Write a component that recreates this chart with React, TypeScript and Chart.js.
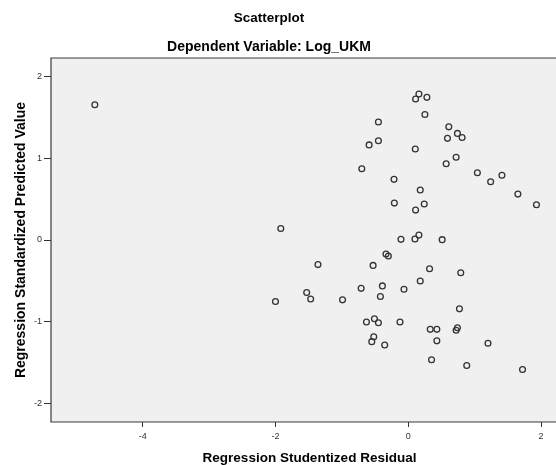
import { useEffect, useRef } from "react";
import { Chart, registerables } from "chart.js";

Chart.register(...registerables);

const residuals: number[] = [
  -4.72, -1.92, -2.0, 0.16, 0.11, 0.28, 0.25, -0.45, 0.61, 0.74, 0.81, 0.59, -0.45, -0.59, 0.105, -0.7,
  0.57, 0.72, 1.04, 1.24, 1.41, -0.215, 1.65, 1.93, 0.18, -0.21, 0.24, 0.11, -0.11, 0.1, 0.16, 0.51,
  -0.336, -0.3, -1.36, -0.53, 0.32, 0.79, 0.18, -0.71, -0.39, -0.065, -0.42, -1.53, -1.47, -0.99, 0.77,
  -0.63, -0.51, -0.45, -0.125, 0.33, 0.43, 0.74, 0.72, -0.52, -0.55, -0.355, 0.43, 1.2, 0.35, 0.88, 1.72,
];
const predicted: number[] = [
  1.65, 0.14, -0.75, 1.78, 1.72, 1.74, 1.53, 1.44, 1.38, 1.3, 1.25, 1.24, 1.21, 1.16, 1.11, 0.87,
  0.93, 1.01, 0.82, 0.71, 0.79, 0.74, 0.56, 0.43, 0.61, 0.45, 0.44, 0.365, 0.008, 0.012, 0.06, 0.004,
  -0.17, -0.195, -0.3, -0.31, -0.35, -0.4, -0.5, -0.59, -0.56, -0.6, -0.69, -0.64, -0.72, -0.73, -0.84,
  -1.0, -0.96, -1.01, -1.0, -1.09, -1.09, -1.07, -1.1, -1.18, -1.24, -1.28, -1.23, -1.26, -1.46, -1.53, -1.58,
];
const xTicks: number[] = [-4, -2, 0, 2];
const yTicks: number[] = [-2, -1, 0, 1, 2];
const chartTitle = "Scatterplot";
const chartSubtitle = "Dependent Variable: Log_UKM";
const xTitle = "Regression Studentized Residual";
const yTitle = "Regression Standardized Predicted Value";

const FONT = 'Arial, "Liberation Sans", sans-serif';

export default function App() {
  const ref = useRef<HTMLCanvasElement>(null);

  useEffect(() => {
    if (!ref.current) return;
    const framePlugin = {
      id: "spssFrame",
      beforeDraw(chart: any) {
        const { ctx, chartArea: a } = chart;
        ctx.save();
        ctx.fillStyle = "#F0F0F0";
        ctx.fillRect(a.left, a.top, a.right - a.left, a.bottom - a.top);
        ctx.restore();
      },
      afterDraw(chart: any) {
        const { ctx, chartArea: a } = chart;
        ctx.save();
        ctx.strokeStyle = "#3a3a3a";
        ctx.lineWidth = 1.2;
        ctx.beginPath();
        ctx.moveTo(a.right + 2, a.top);
        ctx.lineTo(a.left, a.top);
        ctx.lineTo(a.left, a.bottom);
        ctx.lineTo(a.right + 2, a.bottom);
        ctx.stroke();
        ctx.fillStyle = "#000";
        ctx.textAlign = "center";
        ctx.textBaseline = "alphabetic";
        ctx.font = `bold 13.5px ${FONT}`;
        ctx.fillText(chartTitle, 269, 21.5);
        ctx.font = `bold 14px ${FONT}`;
        ctx.fillText(chartSubtitle, 269, 51);
        ctx.font = `bold 13.5px ${FONT}`;
        ctx.fillText(xTitle, 309.5, 461.5);
        ctx.restore();
      },
    };

    const chart = new Chart(ref.current, {
      type: "scatter",
      data: {
        datasets: [
          {
            data: residuals.map((x, i) => ({ x, y: predicted[i] })),
            pointStyle: "circle",
            pointRadius: 2.9,
            pointBorderWidth: 1.3,
            pointBorderColor: "#333",
            pointBackgroundColor: "rgba(0,0,0,0)",
            showLine: false,
          },
        ],
      },
      options: {
        responsive: false,
        animation: false,
        devicePixelRatio: 1,
        layout: { autoPadding: false, padding: { top: 58, left: 0, right: 0, bottom: 0 } },
        plugins: {
          legend: { display: false },
          title: { display: false },
          tooltip: { enabled: false },
        },
        scales: {
          x: {
            type: "linear",
            min: -5.38,
            max: 2.224,
            afterBuildTicks: (s: any) => {
              s.ticks = xTicks.map((v) => ({ value: v }));
            },
            afterFit: (s: any) => {
              s.height = 43;
              s.paddingLeft = 0;
              s.paddingRight = 0;
              s.paddingTop = 0;
              s.paddingBottom = 0;
            },
            grid: { drawOnChartArea: false, drawTicks: true, tickLength: 5, color: "#333", lineWidth: 1 },
            border: { display: false },
            ticks: {
              font: { family: FONT, size: 9 },
              color: "#333",
              padding: 4,
              maxRotation: 0,
              minRotation: 0,
              callback: (v: any) => String(v),
            },
          },
          y: {
            type: "linear",
            min: -2.22,
            max: 2.22,
            afterBuildTicks: (s: any) => {
              s.ticks = yTicks.map((v) => ({ value: v }));
            },
            afterFit: (s: any) => {
              s.width = 51;
              s.paddingLeft = 0;
              s.paddingRight = 0;
              s.paddingTop = 0;
              s.paddingBottom = 0;
            },
            grid: { drawOnChartArea: false, drawTicks: true, tickLength: 7, color: "#333", lineWidth: 1 },
            border: { display: false },
            ticks: {
              font: { family: FONT, size: 9 },
              color: "#333",
              padding: 2,
              callback: (v: any) => String(v),
            },
            title: {
              display: true,
              text: yTitle,
              font: { family: FONT, size: 14, weight: "bold" },
              color: "#000",
              padding: { top: 12.5, bottom: 0 },
            },
          },
        },
      },
      plugins: [framePlugin],
    });
    return () => chart.destroy();
  }, []);

  return (
    <div style={{ position: "fixed", left: 0, top: 0, width: 556, height: 465, background: "#fff" }}>
      <canvas ref={ref} width={556} height={465} style={{ display: "block" }} />
    </div>
  );
}
